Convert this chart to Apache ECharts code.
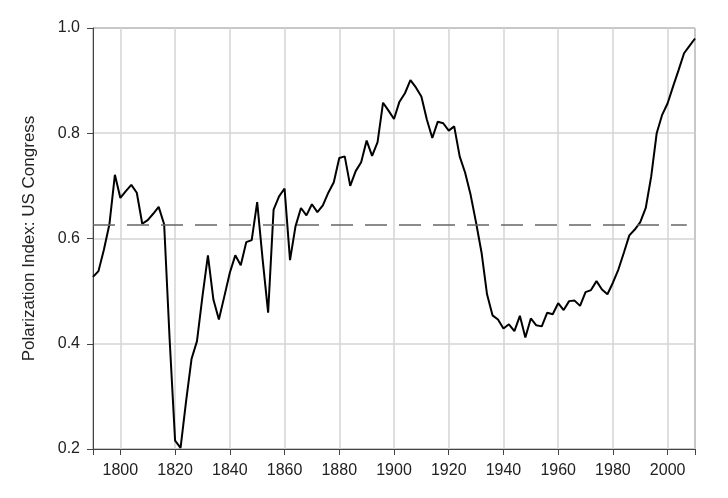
<!DOCTYPE html>
<html>
<head>
<meta charset="utf-8">
<script src="https://cdn.jsdelivr.net/npm/echarts@6/dist/echarts.min.js"></script>
<style>
html,body{margin:0;padding:0;background:#fff;}
#chart{width:728px;height:498px;}
</style>
</head>
<body>
<div id="chart"></div>
<script>
// Congress years (biennial)
var years = [
  1790,1792,1794,1796,1798,1800,1802,1804,1806,1808,
  1810,1812,1814,1816,1818,1820,1822,1824,1826,1828,
  1830,1832,1834,1836,1838,1840,1842,1844,1846,1848,
  1850,1852,1854,1856,1858,1860,1862,1864,1866,1868,
  1870,1872,1874,1876,1878,1880,1882,1884,1886,1888,
  1890,1892,1894,1896,1898,1900,1902,1904,1906,1908,
  1910,1912,1914,1916,1918,1920,1922,1924,1926,1928,
  1930,1932,1934,1936,1938,1940,1942,1944,1946,1948,
  1950,1952,1954,1956,1958,1960,1962,1964,1966,1968,
  1970,1972,1974,1976,1978,1980,1982,1984,1986,1988,
  1990,1992,1994,1996,1998,2000,2002,2004,2006,2008,
  2010
];
// Polarization index values
var polarization = [
  0.527,0.538,0.579,0.627,0.721,0.677,0.690,0.702,0.687,0.628,
  0.635,0.647,0.660,0.627,0.409,0.216,0.202,0.290,0.371,0.405,
  0.490,0.568,0.484,0.446,0.490,0.535,0.568,0.549,0.593,0.597,
  0.669,0.560,0.459,0.655,0.680,0.695,0.559,0.623,0.658,0.644,
  0.665,0.650,0.663,0.687,0.707,0.753,0.756,0.700,0.728,0.745,
  0.786,0.757,0.783,0.858,0.843,0.827,0.860,0.876,0.901,0.887,
  0.870,0.826,0.791,0.822,0.819,0.805,0.813,0.756,0.725,0.683,
  0.630,0.573,0.494,0.454,0.446,0.429,0.437,0.424,0.453,0.412,
  0.448,0.435,0.433,0.459,0.456,0.477,0.464,0.481,0.482,0.472,
  0.498,0.502,0.519,0.503,0.494,0.516,0.541,0.573,0.606,0.617,
  0.631,0.658,0.718,0.800,0.835,0.857,0.889,0.920,0.952,0.966,
  0.980
];
// Dashed reference (mean) line
var meanValue = 0.627;
var meanStartYear = 1790;
var meanEndYear = 2007;
// Axis tick labels
var xTickYears = [1800,1820,1840,1860,1880,1900,1920,1940,1960,1980,2000];
var yTickLabels = ['0.2','0.4','0.6','0.8','1.0'];

var seriesData = years.map(function(y, i){ return [y, polarization[i]]; });

var chart = echarts.init(document.getElementById('chart'), null, {renderer:'canvas'});
var font = 'Liberation Sans, Arial, sans-serif';
chart.setOption({
  animation: false,
  backgroundColor: '#ffffff',
  grid: {
    left: 93, top: 28, right: 33, bottom: 49,
    show: true, borderColor: '#444', borderWidth: 1, backgroundColor: 'transparent'
  },
  xAxis: {
    type: 'value',
    min: 1790, max: 2010,
    splitNumber: 11, minInterval: 20, maxInterval: 20,
    axisLine: {show: true, onZero: false, lineStyle: {color: '#444', width: 1}},
    axisTick: {show: true, inside: false, length: 6, lineStyle: {color: '#444'}},
    axisLabel: {
      color: '#222', fontFamily: font, fontSize: 16, margin: 14,
      showMinLabel: true, showMaxLabel: true,
      formatter: function(v){ return xTickYears.indexOf(v) >= 0 ? String(v) : ''; }
    },
    splitLine: {show: true, lineStyle: {color: '#d4d4d4', width: 1.5}}
  },
  yAxis: {
    type: 'value',
    min: 0.2, max: 1.0, interval: 0.2,
    name: 'Polarization Index: US Congress',
    nameLocation: 'middle', nameGap: 55,
    nameTextStyle: {color: '#222', fontFamily: font, fontSize: 17},
    axisLine: {show: true, lineStyle: {color: '#444', width: 1}},
    axisTick: {show: true, inside: false, length: 6, lineStyle: {color: '#444'}},
    axisLabel: {
      color: '#222', fontFamily: font, fontSize: 16, margin: 13,
      formatter: function(v){
        var idx = Math.round((v - 0.2) / 0.2);
        return yTickLabels[idx] !== undefined ? yTickLabels[idx] : '';
      }
    },
    splitLine: {show: true, lineStyle: {color: '#d4d4d4', width: 1.5}}
  },
  series: [{
    type: 'line',
    data: seriesData,
    showSymbol: false,
    symbol: 'none',
    lineStyle: {color: '#000', width: 2},
    z: 3,
    markLine: {
      silent: true,
      symbol: ['none','none'],
      label: {show: false},
      lineStyle: {color: '#666', width: 1.5, type: [22, 12]},
      data: [[{coord: [meanStartYear, meanValue]}, {coord: [meanEndYear, meanValue]}]]
    }
  }]
});
</script>
</body>
</html>
